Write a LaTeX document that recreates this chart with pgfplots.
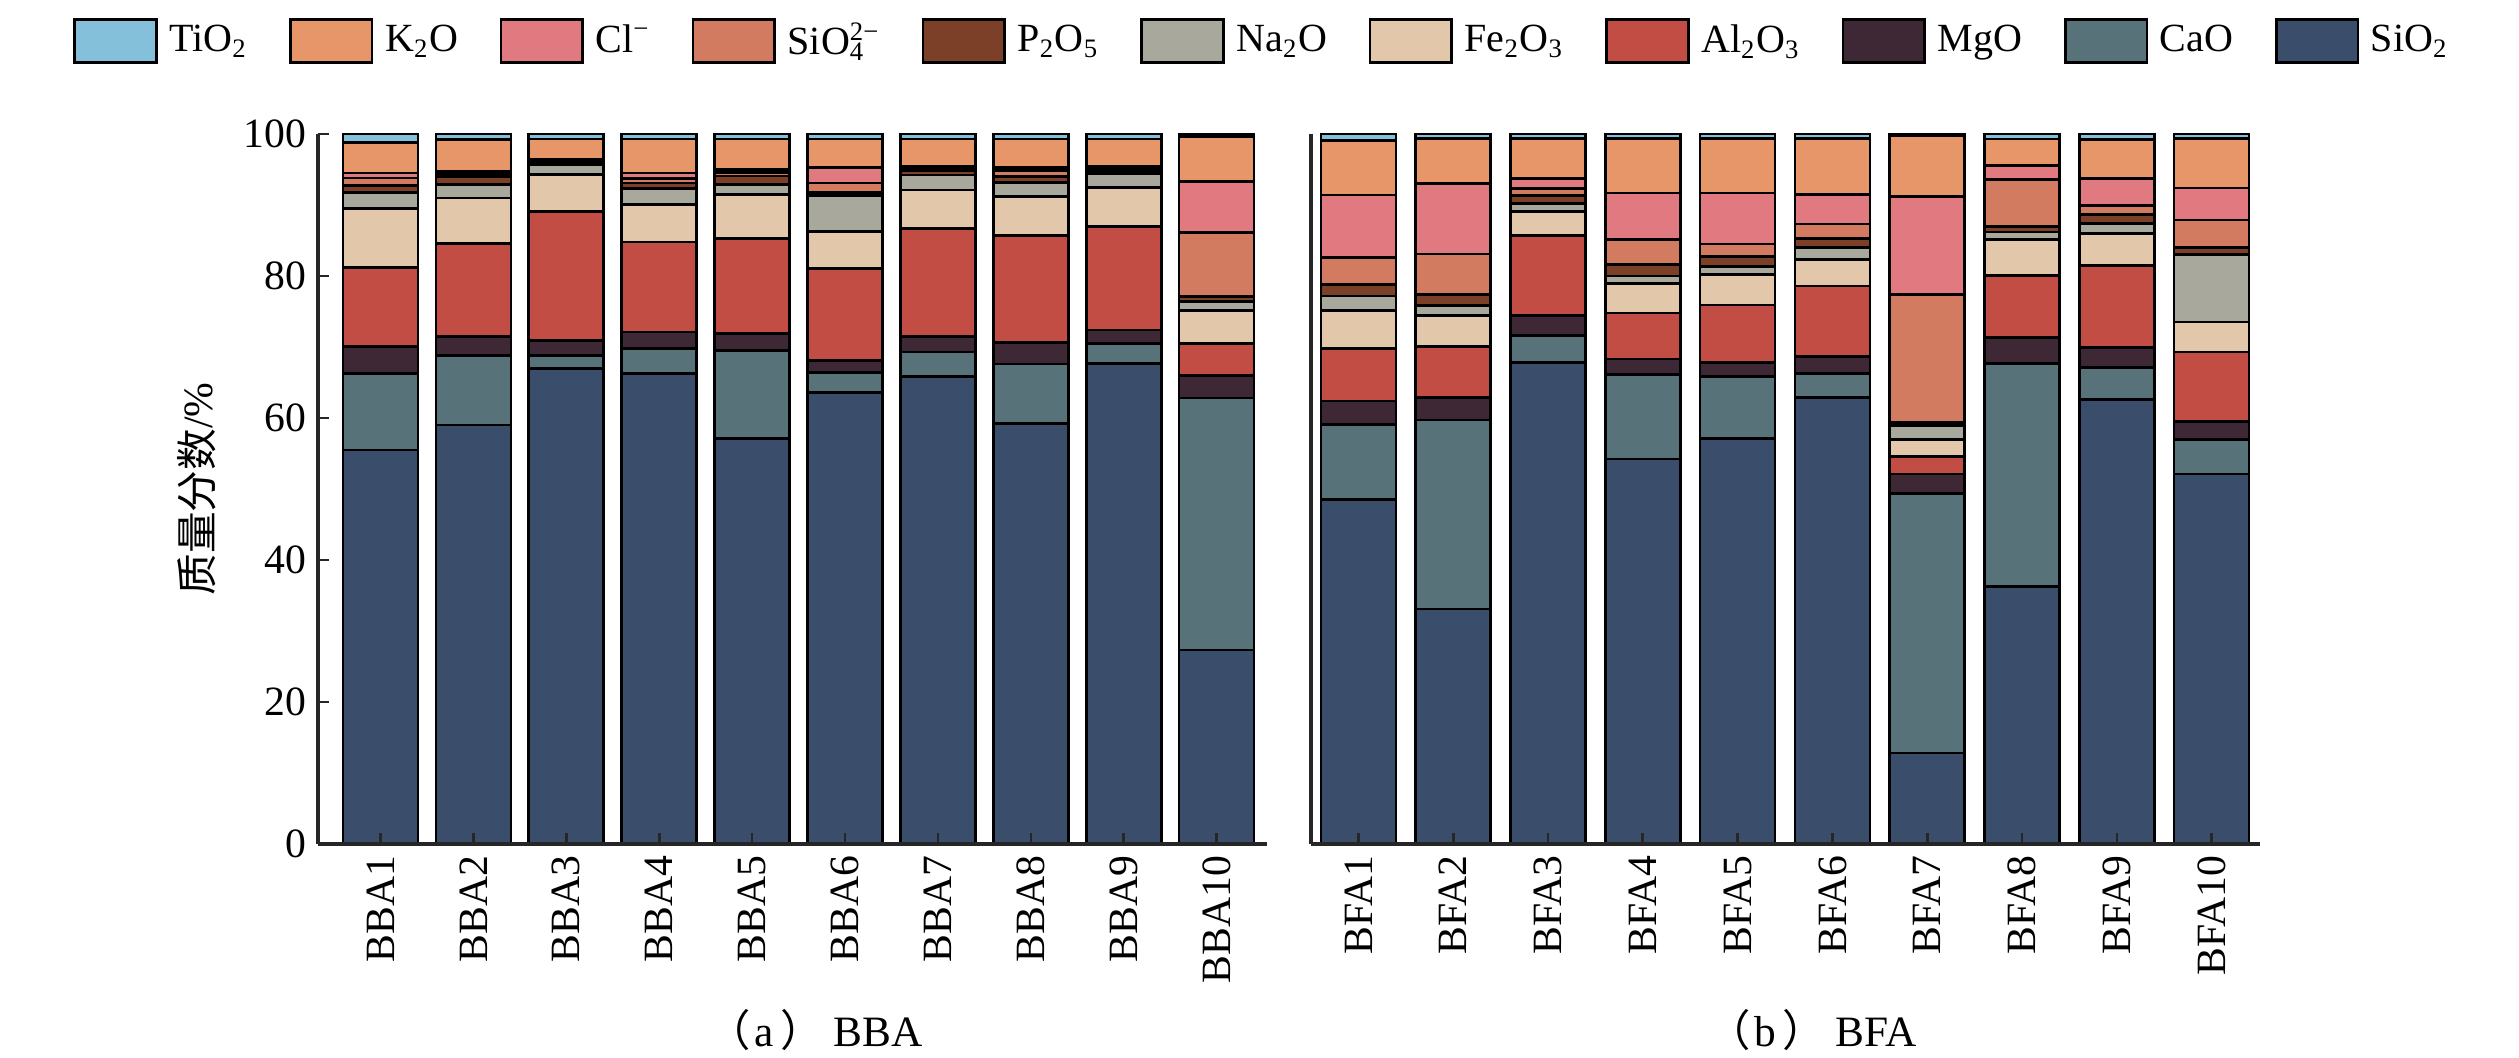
\documentclass[border=0pt]{standalone}
\usepackage{fontspec}
\setmainfont{Liberation Serif}
\newfontfamily\cjk{Noto Sans CJK SC}
\usepackage{pgfplots}
\usepackage{pgfplotstable}
\pgfplotsset{compat=1.18}

\definecolor{ctio}{HTML}{85C0DB}
\definecolor{ck}{HTML}{E69668}
\definecolor{ccl}{HTML}{E07A80}
\definecolor{csio}{HTML}{D37B61}
\definecolor{cp}{HTML}{7B4027}
\definecolor{cna}{HTML}{A8A99C}
\definecolor{cfe}{HTML}{E3C7AB}
\definecolor{cal}{HTML}{C24D45}
\definecolor{cmg}{HTML}{3F2836}
\definecolor{cca}{HTML}{58727A}
\definecolor{csi}{HTML}{3A4D6B}

\pgfplotstableread{
x SiO2 CaO MgO Al2O3 Fe2O3 Na2O P2O5 SiO4 Cl K2O TiO2
1 55.5 10.8 3.8 11.1 8.3 2.3 0.9 1.1 0.7 4.3 1.2
2 59.0 9.8 2.7 13.1 6.4 1.9 1.1 0.4 0.3 4.5 0.8
3 67.0 1.8 2.1 18.2 5.2 1.4 0.3 0.2 0.2 2.9 0.7
4 66.3 3.5 2.3 12.7 5.3 2.2 0.8 0.6 0.8 4.8 0.7
5 57.1 12.4 2.4 13.4 6.2 1.4 1.2 0.5 0.4 4.3 0.7
6 63.6 2.8 1.7 13.0 5.2 5.0 0.5 1.3 2.2 4.0 0.7
7 65.8 3.5 2.2 15.2 5.4 2.1 0.6 0.2 0.4 3.9 0.7
8 59.2 8.4 3.0 15.1 5.5 2.0 0.8 0.9 0.4 4.0 0.7
9 67.7 2.8 1.9 14.6 5.5 1.9 0.5 0.2 0.4 3.8 0.7
10 27.3 35.5 3.2 4.5 4.6 1.3 0.7 9.0 7.2 6.3 0.4
}\bba

\pgfplotstableread{
x SiO2 CaO MgO Al2O3 Fe2O3 Na2O P2O5 SiO4 Cl K2O TiO2
1 48.5 10.6 3.3 7.4 5.3 2.1 1.6 3.8 8.8 7.7 0.9
2 33.1 26.6 3.2 7.2 4.3 1.4 1.6 5.7 9.9 6.4 0.6
3 67.8 3.8 2.8 11.3 3.4 1.1 1.1 1.0 1.4 5.7 0.6
4 54.2 11.9 2.2 6.5 4.1 1.1 1.6 3.5 6.6 7.7 0.6
5 57.1 8.7 2.0 8.1 4.3 1.1 1.4 1.8 7.2 7.7 0.6
6 62.9 3.4 2.4 9.9 3.7 1.7 1.3 2.0 4.2 7.9 0.6
7 12.8 36.6 2.7 2.5 2.4 1.9 0.5 18.0 13.8 8.5 0.3
8 36.3 31.4 3.6 8.8 5.0 1.1 0.8 6.6 2.0 3.7 0.7
9 62.6 4.5 2.8 11.6 4.5 1.4 1.3 1.2 3.8 5.5 0.8
10 52.1 4.9 2.5 9.8 4.2 9.5 1.0 3.9 4.5 7.0 0.6
}\bfa

\pgfplotsset{
  comp/.style={
    scale only axis, width=284.7pt, height=213pt,
    ybar stacked, bar width=22.5pt,
    ymin=0, ymax=100,
    axis x line*=bottom, axis y line*=left,
    axis line style={line width=1pt, color=black!85, -},
    axis on top, clip=false,
    tick align=inside, major tick length=3.2pt,
    tick style={line width=0.8pt, color=black!85},
    xtick={1,2,3,4,5,6,7,8,9,10},
    xticklabel style={rotate=90, anchor=east, font=\fontsize{12.5}{14}\selectfont},
    yticklabel style={font=\fontsize{12.5}{14}\selectfont},
    /pgf/number format/assume math mode=true,
  },
  seg/.style={fill=#1, draw=black, line width=0.8pt, forget plot},
}

\newcommand{\stackbars}[1]{%
  \addplot[seg=csi] table[x=x,y=SiO2]{#1};
  \addplot[seg=cca] table[x=x,y=CaO]{#1};
  \addplot[seg=cmg] table[x=x,y=MgO]{#1};
  \addplot[seg=cal] table[x=x,y=Al2O3]{#1};
  \addplot[seg=cfe] table[x=x,y=Fe2O3]{#1};
  \addplot[seg=cna] table[x=x,y=Na2O]{#1};
  \addplot[seg=cp] table[x=x,y=P2O5]{#1};
  \addplot[seg=csio] table[x=x,y=SiO4]{#1};
  \addplot[seg=ccl] table[x=x,y=Cl]{#1};
  \addplot[seg=ck] table[x=x,y=K2O]{#1};
  \addplot[seg=ctio] table[x=x,y=TiO2]{#1};
}

\begin{document}
\begin{tikzpicture}
\begin{axis}[comp,
  at={(0pt,0pt)}, anchor=south west,
  xmin=0.327, xmax=10.542,
  ytick={0,20,40,60,80,100},
  xticklabels={BBA1,BBA2,BBA3,BBA4,BBA5,BBA6,BBA7,BBA8,BBA9,BBA10},
  ylabel={{\cjk 质量分数}/\%},
  ylabel style={at={(axis description cs:-0.1275,0.5)}, anchor=center, font=\fontsize{12.5}{14}\selectfont},
  legend style={at={(axis description cs:0.997,1.131)}, anchor=center, draw=none, fill=none,
    legend columns=11, font=\fontsize{12}{14}\selectfont, inner sep=0pt,
    /tikz/every odd column/.append style={column sep=1.5pt},
    /tikz/every even column/.append style={column sep=10.5pt}},
  legend image code/.code={\draw[#1] (0pt,-6.5pt) rectangle (24.5pt,6.5pt);},
]
\stackbars{\bba}
\addlegendimage{fill=ctio, draw=black, line width=0.8pt}\addlegendentry{TiO\textsubscript{2}}
\addlegendimage{fill=ck, draw=black, line width=0.8pt}\addlegendentry{K\textsubscript{2}O}
\addlegendimage{fill=ccl, draw=black, line width=0.8pt}\addlegendentry{Cl\textsuperscript{−}}
\addlegendimage{fill=csio, draw=black, line width=0.8pt}\addlegendentry{SiO\rlap{\textsubscript{4}}\textsuperscript{2−}}
\addlegendimage{fill=cp, draw=black, line width=0.8pt}\addlegendentry{P\textsubscript{2}O\textsubscript{5}}
\addlegendimage{fill=cna, draw=black, line width=0.8pt}\addlegendentry{Na\textsubscript{2}O}
\addlegendimage{fill=cfe, draw=black, line width=0.8pt}\addlegendentry{Fe\textsubscript{2}O\textsubscript{3}}
\addlegendimage{fill=cal, draw=black, line width=0.8pt}\addlegendentry{Al\textsubscript{2}O\textsubscript{3}}
\addlegendimage{fill=cmg, draw=black, line width=0.8pt}\addlegendentry{MgO}
\addlegendimage{fill=cca, draw=black, line width=0.8pt}\addlegendentry{CaO}
\addlegendimage{fill=csi, draw=black, line width=0.8pt}\addlegendentry{SiO\textsubscript{2}}
\node[font=\fontsize{13}{15}\selectfont] at (axis description cs:0.524,-0.262) {{\cjk （}\hspace{1pt}a\hspace{2pt}{\cjk ）}\hspace{3pt}BBA};
\end{axis}
\begin{axis}[comp,
  at={(297.9pt,0pt)}, anchor=south west,
  xmin=0.5, xmax=10.51,
  ytick=\empty,
  xticklabels={BFA1,BFA2,BFA3,BFA4,BFA5,BFA6,BFA7,BFA8,BFA9,BFA10},
]
\stackbars{\bfa}
\node[font=\fontsize{13}{15}\selectfont] at (axis description cs:0.528,-0.262) {{\cjk （}\hspace{1pt}b\hspace{2pt}{\cjk ）}\hspace{3pt}BFA};
\end{axis}
\pgfresetboundingbox
\path[use as bounding box] (-95.4pt,-64.2pt) rectangle (660.3pt,253.2pt);
\end{tikzpicture}
\end{document}
